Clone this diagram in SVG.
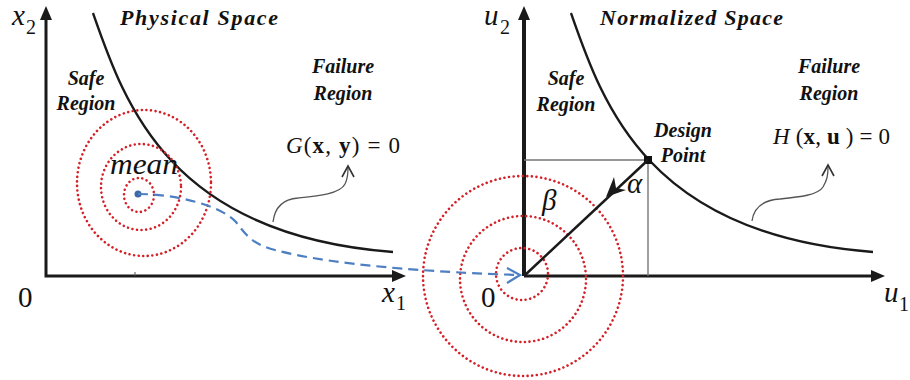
<svg xmlns="http://www.w3.org/2000/svg" width="910" height="380" viewBox="0 0 910 380">
<defs>
<style>
.ax{stroke:#1a1a1a;stroke-width:3;fill:none}
.axr{stroke:#1a1a1a;stroke-width:4;fill:none}
.curve{stroke:#1a1a1a;stroke-width:2.4;fill:none}
.dot{stroke:#d42128;stroke-width:2.6;fill:none;stroke-dasharray:0.01 4.6;stroke-linecap:round}
.blue{stroke:#4d7fc2;stroke-width:2.2;fill:none;stroke-dasharray:10 6}
.thin{stroke:#777;stroke-width:1.4;fill:none}
.squig{stroke:#555;stroke-width:1.3;fill:none}
text{font-family:"Liberation Serif","Times New Roman",Tinos,"DejaVu Serif",serif;fill:#111}
.lab{font-weight:bold;font-style:italic;font-size:20px}
.title{font-weight:bold;font-style:italic;font-size:22px}
.math{font-size:23px}
.var{font-style:italic;font-size:29px}
.num{font-size:29px}
.sub{font-size:20px}
.it{font-style:italic}
.bd{font-weight:bold}
</style>
</defs>

<g id="left-axes">
<path class="ax" d="M46,18 V276 H394"/>
<polygon points="46,6 40,20 52,20" fill="#1a1a1a"/>
<polygon points="406,276 392,270 392,282" fill="#1a1a1a"/>
<path d="M135,272 V276" stroke="#555" stroke-width="1"/>
</g>

<g id="right-axes">
<path class="axr" d="M524,18 V276"/>
<path class="ax" d="M524,276 H872"/>
<polygon points="524,6 518,20 530,20" fill="#1a1a1a"/>
<polygon points="885,276 871,270 871,282" fill="#1a1a1a"/>
</g>

<g id="limit-state-left">
<path class="curve" d="M93,13 C125,105 170,235 393,252"/>
</g>
<g id="limit-state-right">
<path class="curve" d="M571,13 C603,105 648,235 873,252"/>
</g>

<g id="physical-distribution">
<ellipse class="dot" cx="144" cy="183" rx="67" ry="73"/>
<ellipse class="dot" cx="141" cy="187" rx="40" ry="43"/>
<ellipse class="dot" cx="139" cy="195" rx="15" ry="17"/>
<circle cx="138" cy="194" r="3.5" fill="#3a68a8"/>
</g>

<g id="normalized-distribution">
<circle class="dot" cx="523" cy="276" r="100"/>
<circle class="dot" cx="523" cy="279" r="63"/>
<circle class="dot" cx="522" cy="274" r="26"/>
</g>

<g id="design-point">
<path class="thin" d="M524,160 H648 V276"/>
<rect x="644" y="156" width="8" height="8" fill="#111"/>
</g>

<g id="connectors">
<path class="blue" d="M138,194 C175,194 220,205 236,222 C246,235 252,244 275,250 C320,262 400,271 518,275"/>
<path d="M507,268 L520,275 L507,283" stroke="#4d7fc2" stroke-width="2.2" fill="none"/>
<path d="M524,276 L648,160" stroke="#1a1a1a" stroke-width="2.5" fill="none"/>
<polygon points="606,197 626,190 616,188 614,177" fill="#1a1a1a"/>
<path class="squig" d="M273,222 C275,206 284,199 298,198 C318,196 340,194 345,184 C348,178 348,174 348,168"/>
<path d="M342,177 L348,166 L354,177" stroke="#333" stroke-width="1.6" fill="none"/>
<path class="squig" d="M752,221 C754,206 764,200 780,199 C800,197 818,195 823,187 C827,180 828,176 828,167"/>
<path d="M822,176 L828,165 L834,176" stroke="#333" stroke-width="1.6" fill="none"/>
</g>

<g id="labels">
<text class="var" x="12" y="25">x</text><text class="sub" x="26" y="34">2</text>
<text class="num" x="18" y="307">0</text>
<text class="var" x="382" y="302">x</text><text class="sub" x="396" y="310">1</text>
<text class="var" x="484" y="25">u</text><text class="sub" x="500" y="34">2</text>
<text class="num" x="481" y="307">0</text>
<text class="var" x="884" y="302">u</text><text class="sub" x="899" y="311">1</text>

<text class="title" x="120" y="25" textLength="158" lengthAdjust="spacing">Physical Space</text>
<text class="title" x="600" y="25" textLength="183" lengthAdjust="spacing">Normalized Space</text>

<text class="lab" x="86" y="85" text-anchor="middle">Safe</text>
<text class="lab" x="86" y="110" text-anchor="middle">Region</text>
<text class="lab" x="343" y="73" text-anchor="middle">Failure</text>
<text class="lab" x="343" y="100" text-anchor="middle">Region</text>

<text class="lab" x="566" y="85" text-anchor="middle">Safe</text>
<text class="lab" x="566" y="111" text-anchor="middle">Region</text>
<text class="lab" x="829" y="73" text-anchor="middle">Failure</text>
<text class="lab" x="829" y="100" text-anchor="middle">Region</text>
<text class="lab" x="683" y="137" text-anchor="middle">Design</text>
<text class="lab" x="683" y="162" text-anchor="middle">Point</text>

<text x="110" y="174" font-style="italic" font-size="30" textLength="68" lengthAdjust="spacingAndGlyphs">mean</text>

<text class="math" x="286" y="153" textLength="114" lengthAdjust="spacing"><tspan class="it">G</tspan>(<tspan class="bd">x</tspan>, <tspan class="bd">y</tspan>) = 0</text>
<text class="math" x="773" y="144" textLength="117" lengthAdjust="spacing"><tspan class="it">H</tspan> (<tspan class="bd">x</tspan>, <tspan class="bd">u</tspan> ) = 0</text>

<text class="var" x="627" y="193" font-size="26">α</text>
<text class="var" x="542" y="210">β</text>
</g>
</svg>
